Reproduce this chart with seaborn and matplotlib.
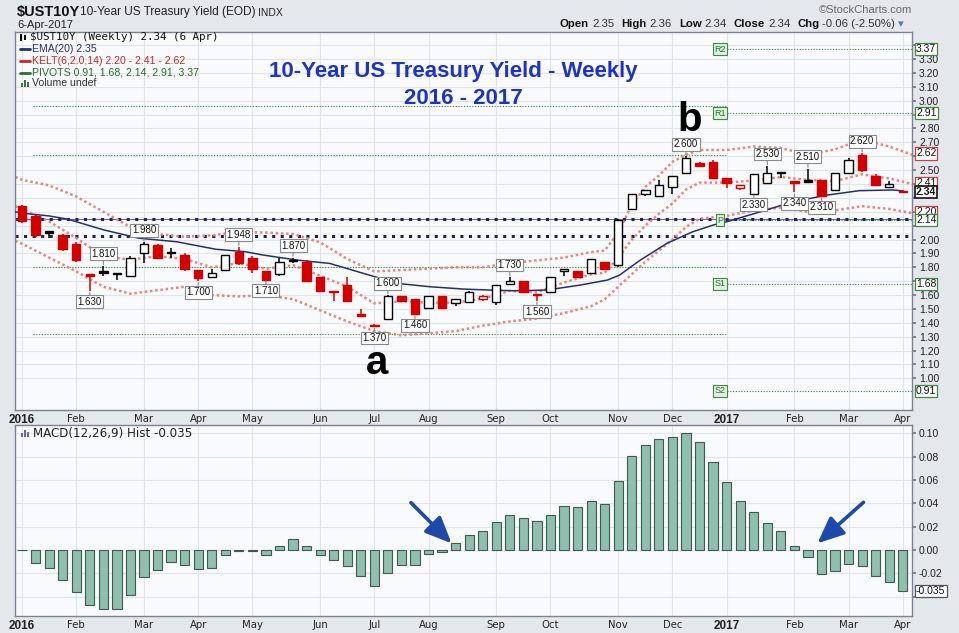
import numpy as np
import pandas as pd
import matplotlib
matplotlib.use("Agg")
import matplotlib.pyplot as plt
import seaborn as sns
from matplotlib.patches import Rectangle

# ---------------- data ----------------
week = list(range(66))
prior_close = 2.27
opens = [2.24, 2.17, 2.06, 2.03, 1.97, 1.75, 1.77, 1.75, 1.74, 1.90, 1.96, 1.91, 1.89, 1.78, 1.73, 1.78, 1.91, 1.87, 1.77, 1.75,
         1.85, 1.84, 1.73, 1.63, 1.67, 1.46, 1.38, 1.43, 1.59, 1.57, 1.51, 1.59, 1.54, 1.55, 1.57, 1.55, 1.68, 1.70, 1.61, 1.62,
         1.77, 1.77, 1.76, 1.84, 1.82, 2.22, 2.33, 2.31, 2.38, 2.48, 2.55, 2.56, 2.44, 2.37, 2.33, 2.41, 2.485, 2.42, 2.43, 2.43,
         2.36, 2.48, 2.61, 2.46, 2.38, 2.35]
highs = [2.25, 2.18, 2.065, 2.04, 1.98, 1.75, 1.81, 1.76, 1.88, 1.98, 1.97, 1.94, 1.90, 1.78, 1.79, 1.89, 1.948, 1.88, 1.77, 1.87,
         1.87, 1.85, 1.73, 1.63, 1.73, 1.50, 1.39, 1.60, 1.59, 1.57, 1.59, 1.59, 1.57, 1.63, 1.60, 1.67, 1.73, 1.70, 1.61, 1.73,
         1.79, 1.77, 1.86, 1.84, 2.15, 2.33, 2.36, 2.43, 2.46, 2.60, 2.56, 2.57, 2.44, 2.39, 2.47, 2.53, 2.485, 2.42, 2.51, 2.43,
         2.48, 2.59, 2.62, 2.47, 2.42, 2.36]
lows = [2.12, 2.02, 2.01, 1.92, 1.84, 1.63, 1.74, 1.71, 1.73, 1.83, 1.87, 1.87, 1.77, 1.70, 1.72, 1.77, 1.82, 1.76, 1.71, 1.74,
        1.83, 1.70, 1.63, 1.56, 1.56, 1.45, 1.37, 1.42, 1.55, 1.46, 1.50, 1.50, 1.52, 1.54, 1.56, 1.53, 1.67, 1.62, 1.56, 1.62,
        1.74, 1.73, 1.76, 1.79, 1.80, 2.21, 2.31, 2.31, 2.33, 2.47, 2.53, 2.44, 2.37, 2.36, 2.33, 2.40, 2.44, 2.34, 2.41, 2.31,
        2.35, 2.47, 2.49, 2.39, 2.37, 2.34]
closes = [2.13, 2.03, 2.05, 1.93, 1.85, 1.74, 1.76, 1.76, 1.87, 1.97, 1.87, 1.90, 1.79, 1.72, 1.76, 1.89, 1.83, 1.79, 1.71, 1.84,
          1.845, 1.70, 1.63, 1.62, 1.56, 1.45, 1.375, 1.59, 1.56, 1.46, 1.59, 1.51, 1.57, 1.62, 1.595, 1.67, 1.70, 1.62, 1.60, 1.73,
          1.79, 1.73, 1.86, 1.79, 2.14, 2.33, 2.36, 2.39, 2.46, 2.59, 2.53, 2.44, 2.41, 2.39, 2.47, 2.48, 2.48, 2.41, 2.415, 2.31,
          2.48, 2.57, 2.50, 2.395, 2.40, 2.34]
macd_hist = [-0.0003, -0.0114, -0.0157, -0.0257, -0.036, -0.0474, -0.0506, -0.0506, -0.0386, -0.0229,
             -0.0174, -0.0103, -0.0131, -0.0166, -0.0157, -0.0046, -0.0011, -0.0005, -0.004, 0.0034,
             0.0094, 0.0034, -0.004, -0.0086, -0.0137, -0.022, -0.0311, -0.0194, -0.0126, -0.0131,
             -0.0037, -0.002, 0.0057, 0.0126, 0.0163, 0.0237, 0.0297, 0.0271, 0.0246, 0.030,
             0.0374, 0.0366, 0.0417, 0.0391, 0.0591, 0.0803, 0.0903, 0.0949, 0.0966, 0.1003,
             0.0929, 0.0757, 0.0583, 0.0417, 0.0326, 0.0234, 0.016, 0.0037, -0.0057, -0.0203,
             -0.0183, -0.0123, -0.0137, -0.0223, -0.0277, -0.035]

ema_weeks = [-0.5, 0, 2, 3.4, 6, 8.6, 11.4, 14.3, 16.5, 17.8, 20.3, 22.7, 25.2, 27.7, 30.1, 32.6, 34.5, 36.3, 38.7,
             41.2, 43.2, 44.1, 45.6, 47.6, 49.5, 51, 52, 54.5, 56.9, 59.4, 61.8, 64.3, 65]
ema_vals = [2.20, 2.19, 2.17, 2.146, 2.07, 2.01, 1.984, 1.93, 1.912, 1.888, 1.852, 1.828, 1.756, 1.684, 1.66, 1.643, 1.636,
            1.631, 1.636, 1.672, 1.708, 1.744, 1.85, 1.973, 2.056, 2.104, 2.128, 2.20, 2.272, 2.32, 2.352, 2.357, 2.35]

kelt_weeks = [-0.5, 0, 2, 4, 6, 8, 10, 12, 14, 16, 18, 20, 22, 24, 26, 28, 30, 32, 34, 36, 38, 40, 42, 43, 44, 45, 46,
              47, 48, 49, 50, 52, 54, 56, 58, 60, 62, 64, 65.7]
kelt_mid = [2.24, 2.22, 2.13, 2.01, 1.88, 1.855, 1.88, 1.86, 1.80, 1.83, 1.79, 1.815, 1.74, 1.66, 1.54, 1.555, 1.545,
            1.545, 1.575, 1.63, 1.62, 1.69, 1.75, 1.76, 1.87, 2.00, 2.10, 2.185, 2.26, 2.36, 2.41, 2.41, 2.425, 2.45,
            2.43, 2.42, 2.47, 2.44, 2.40]
kelt_upper = [2.45, 2.43, 2.39, 2.31, 2.20, 2.09, 2.04, 2.02, 2.03, 2.056, 2.05, 2.04, 1.98, 1.86, 1.77, 1.78, 1.79,
              1.80, 1.80, 1.83, 1.85, 1.87, 1.91, 1.92, 2.05, 2.25, 2.38, 2.46, 2.56, 2.61, 2.645, 2.645, 2.67, 2.66,
              2.61, 2.65, 2.72, 2.67, 2.61]
kelt_lower = [1.99, 1.97, 1.87, 1.77, 1.66, 1.61, 1.635, 1.66, 1.60, 1.59, 1.60, 1.57, 1.49, 1.41, 1.34, 1.31, 1.325,
              1.34, 1.38, 1.41, 1.43, 1.47, 1.52, 1.57, 1.66, 1.75, 1.84, 1.92, 2.00, 2.09, 2.15, 2.17, 2.21, 2.23,
              2.20, 2.21, 2.24, 2.22, 2.19]

pivots_prev = [2.96, 2.61, 1.80, 1.32]
pivots_new = [3.37, 2.91, 2.14, 1.68, 0.91]
pivot_names = ["R2", "R1", "P", "S1", "S2"]
user_lines = [2.147, 2.027]

month_ticks = [0, 4, 9, 13, 17, 22, 26, 30, 35, 39, 44, 48, 52, 57, 61, 65]
month_labels = ["2016", "Feb", "Mar", "Apr", "May", "Jun", "Jul", "Aug", "Sep", "Oct", "Nov", "Dec",
                "2017", "Feb", "Mar", "Apr"]

hl_weeks = [5, 6, 9, 13, 16, 18, 20, 26, 27, 29, 36, 38, 49, 54, 55, 57, 58, 59, 62]
hl_texts = ["1.630", "1.810", "1.980", "1.700", "1.948", "1.710", "1.870", "1.370", "1.600", "1.460",
            "1.730", "1.560", "2.600", "2.330", "2.530", "2.340", "2.510", "2.310", "2.620"]
hl_sides = ["low", "high", "high", "low", "high", "low", "high", "low", "high", "low",
            "high", "low", "high", "low", "high", "low", "high", "low", "high"]

tag_vals = [3.37, 2.91, 2.62, 2.41, 2.20, 2.14, 1.68, 0.91, 2.34]
tag_kind = ["piv", "piv", "kelt", "kelt", "kelt", "piv", "piv", "piv", "last"]

# ---------------- figure ----------------
sns.set_theme(style="white")
plt.rcParams['font.family'] = ['Liberation Sans', 'DejaVu Sans']

W, H = 959, 633
fig = plt.figure(figsize=(W / 100, H / 100), dpi=100, facecolor='#e4e7ec')


def fx(px):
    return px / W


def fy(py):
    return 1 - py / H


L, R = 15, 912
ax1 = fig.add_axes([fx(L), fy(410), (R - L) / W, (410 - 32) / H])
ax2 = fig.add_axes([fx(L), fy(616), (R - L) / W, (616 - 425) / H])

# MACD histogram (seaborn)
sns.barplot(x=week, y=macd_hist, native_scale=True, color='#8fbfae', edgecolor='#42594f',
            linewidth=0.8, width=0.68, saturation=1, ax=ax2, zorder=3)

for ax in (ax1, ax2):
    ax.set_facecolor('#f9fafc')
    ax.set_xlim(-0.52, 65.68)
    ax.set_xlabel("")
    ax.set_ylabel("")
    for s in ax.spines.values():
        s.set_color('#7d838e')
        s.set_linewidth(1)
    ax.yaxis.tick_right()
    ax.set_xticks(month_ticks)
    ax.set_xticklabels(month_labels)
    ax.set_xticks(week, minor=True)
    ax.tick_params(axis='x', which='major', length=0, pad=3, labelsize=7.3, labelcolor='#222222')
    ax.tick_params(axis='x', which='minor', length=2, direction='out', color='#888888')
    ax.tick_params(axis='y', which='major', right=True, left=False, length=3, pad=2,
                   color='#777777', labelcolor='#222222')
    ax.grid(True, which='major', color='#e1e4e9', lw=0.8)
    for lab in ax.get_xticklabels():
        lab.set_fontfamily('DejaVu Sans')
        if lab.get_text() in ("2016", "2017"):
            lab.set_fontweight('bold')
            lab.set_fontfamily('Liberation Sans')
            lab.set_fontsize(8.5)

ax1.set_ylim(0.772, 3.495)
yt1 = np.round(np.arange(1.0, 3.41, 0.1), 2)
ax1.set_yticks(yt1)
# labels hidden behind the value tags are left blank
ax1.set_yticklabels([("" if min(abs(v - t) for t in tag_vals) < 0.045 else f"{v:.2f}") for v in yt1],
                    fontsize=7.5)
ax2.set_ylim(-0.0566, 0.1072)
yt2 = [-0.04, -0.02, 0.0, 0.02, 0.04, 0.06, 0.08, 0.10]
ax2.set_yticks(yt2)
ax2.set_yticklabels([("" if v == -0.04 else f"{v:.2f}") for v in yt2], fontsize=7.5)

# horizontal reference lines
for v in pivots_prev:
    ax1.plot([0.8, 52], [v, v], color='#3d8c40', lw=0.8, ls=(0, (1, 1.5)), zorder=2)
for v in pivots_new:
    ax1.plot([52, 65.68], [v, v], color='#3d8c40', lw=0.8, ls=(0, (1, 1.5)), zorder=2)
ax1.axhline(user_lines[0], color='#6b7290', lw=0.8, zorder=2)
for v in user_lines:
    ax1.axhline(v, color='#1b2160', lw=2.2, ls=(0, (1, 1.8)), zorder=2)

# Keltner channels and EMA (seaborn)
for band in (kelt_upper, kelt_mid, kelt_lower):
    sns.lineplot(x=kelt_weeks, y=band, ax=ax1, color='#e8877e', lw=1.8, ls=(0, (1, 1.1)),
                 sort=False, estimator=None, zorder=2.5)
sns.lineplot(x=ema_weeks, y=ema_vals, ax=ax1, color='#27306e', lw=1.1, sort=False, estimator=None, zorder=2.6)

# candles
prev = prior_close
for i in week:
    o, h, l, c = opens[i], highs[i], lows[i], closes[i]
    col = '#d40000' if c < prev else '#000000'
    hollow = c > o
    ax1.vlines(i, l, h, color=col, lw=1.1, zorder=4)
    bottom = min(o, c)
    height = max(abs(c - o), 0.007)
    ax1.add_patch(Rectangle((i - 0.31, bottom), 0.62, height, facecolor='white' if hollow else col,
                            edgecolor=col, lw=1.0, zorder=5))
    prev = c

# high / low labels
for wk, txt, side in zip(hl_weeks, hl_texts, hl_sides):
    yv = highs[wk] if side == "high" else lows[wk]
    off = 12 if side == "high" else -11
    ax1.annotate(txt, xy=(wk, yv), xytext=(0, off), textcoords='offset pixels',
                 ha='center', va='center', fontsize=7, color='#111111', zorder=8,
                 bbox=dict(boxstyle='square,pad=0.15', fc='white', ec='#8a8a8a', lw=0.8),
                 arrowprops=dict(arrowstyle='-', color='#8a8a8a', lw=0.8, shrinkA=0, shrinkB=1))

# pivot name tags
for v, nm in zip(pivots_new, pivot_names):
    ax1.text(51.5, v, nm, ha='center', va='center', fontsize=6.5, color='#2d6e2d', zorder=8,
             bbox=dict(boxstyle='square,pad=0.15', fc='#e2f1e2', ec='#3d8c40', lw=0.8))

# right-side value tags
for v, kind in zip(tag_vals, tag_kind):
    ec = {'piv': '#3d8c40', 'kelt': '#c84040', 'last': '#111111'}[kind]
    ax1.annotate(f"{v:.2f}", xy=(1.0, v), xycoords=('axes fraction', 'data'), xytext=(4, 0),
                 textcoords='offset pixels', ha='left', va='center',
                 fontsize=7.5, fontweight='bold' if kind == 'last' else 'normal', color='#111111',
                 annotation_clip=False, zorder=9,
                 bbox=dict(boxstyle='square,pad=0.1', fc='white', ec=ec, lw=1.2 if kind == 'last' else 0.9))
ax2.annotate(f"{macd_hist[-1]:.3f}", xy=(1.0, macd_hist[-1]), xycoords=('axes fraction', 'data'),
             xytext=(4, 0), textcoords='offset pixels', ha='left', va='center', fontsize=7.5,
             color='#111111', annotation_clip=False, zorder=9,
             bbox=dict(boxstyle='square,pad=0.12', fc='white', ec='#555555', lw=0.9))

# arrows on MACD
for (x0, y0, x1, y1) in [(28.7, 0.0406, 31.7, 0.0057), (62.1, 0.0409, 58.7, 0.0057)]:
    ax2.annotate('', xy=(x1, y1), xytext=(x0, y0),
                 arrowprops=dict(arrowstyle='-|>,head_length=0.8,head_width=0.35', mutation_scale=20,
                                 color='#1d4aa8', lw=2.6, shrinkA=0, shrinkB=0), zorder=9)

# letters a / b (baseline placed)
ax1.text(26.2, 1.031, "a", ha='center', va='baseline', fontsize=29, fontweight='bold', color='black', zorder=8)
ax1.text(49.3, 2.782, "b", ha='center', va='baseline', fontsize=29, fontweight='bold', color='black', zorder=8)

# title
blue = '#1e32c8'
fig.text(fx(453), fy(72), "10-Year US Treasury Yield - Weekly", ha='center', va='center',
         fontsize=16, fontweight='bold', color=blue)
fig.text(fx(463), fy(98), "2016 - 2017", ha='center', va='center', fontsize=16, fontweight='bold', color=blue)

# legend in top panel
fig.text(fx(30), fy(37), "$UST10Y (Weekly) 2.34 (6 Apr)", fontfamily='DejaVu Sans Mono', fontsize=7.8,
         va='center', ha='left', color='#111111')
fig.add_artist(Rectangle((fx(20), fy(41)), 2 / W, 7 / H, transform=fig.transFigure, fc='black', ec='none'))
fig.add_artist(Rectangle((fx(24), fy(40)), 2 / W, 5 / H, transform=fig.transFigure, fc='black', ec='none'))
leg_lines = [("EMA(20) 2.35", '#27306e', 49), ("KELT(6,2.0,14) 2.20 - 2.41 - 2.62", '#c82828', 61),
             ("PIVOTS 0.91, 1.68, 2.14, 2.91, 3.37", '#2d6e2d', 72.5)]
for txt, col, yy in leg_lines:
    fig.add_artist(plt.Line2D([fx(20), fx(30)], [fy(yy), fy(yy)], color=col, lw=2, transform=fig.transFigure))
    fig.text(fx(32), fy(yy), txt, fontsize=7.6, va='center', ha='left', color=col)
fig.text(fx(32), fy(83.5), "Volume undef", fontsize=7.6, va='center', ha='left', color='#333333')
for k, hh in enumerate([4, 7, 5]):
    fig.add_artist(Rectangle((fx(21 + 3 * k), fy(87)), 2 / W, hh / H, transform=fig.transFigure,
                             fc='#3d6e3d', ec='none'))

# MACD label
fig.text(fx(33), fy(433), "MACD(12,26,9) Hist -0.035", fontfamily='DejaVu Sans', fontsize=8.6,
         va='center', ha='left', color='#222222')
for k, hh in enumerate([4, 7, 5]):
    fig.add_artist(Rectangle((fx(21 + 3 * k), fy(437)), 2 / W, hh / H, transform=fig.transFigure,
                             fc='#5a6f9a', ec='none'))

# header
fig.text(fx(17), fy(12), "$UST10Y", fontsize=10.5, fontweight='bold', va='center', ha='left', color='#111111')
fig.text(fx(80), fy(12), "10-Year US Treasury Yield (EOD)", fontsize=8.6, va='center', ha='left', color='#222222')
fig.text(fx(258), fy(12.5), "INDX", fontsize=7.5, va='center', ha='left', color='#222222')
fig.text(fx(17), fy(24.5), "6-Apr-2017", fontsize=8, va='center', ha='left', color='#222222')
fig.text(fx(912), fy(10), "\u00a9StockCharts.com", fontsize=8, va='center', ha='right', color='#666666')

renderer = fig.canvas.get_renderer()
pieces = [("Open", 'bold', '#111111', 3), ("2.35", 'normal', '#333333', 7), ("High", 'bold', '#111111', 3),
          ("2.36", 'normal', '#333333', 7), ("Low", 'bold', '#111111', 3), ("2.34", 'normal', '#333333', 7),
          ("Close", 'bold', '#111111', 3), ("2.34", 'normal', '#333333', 7), ("Chg", 'bold', '#111111', 3),
          ("-0.06 (-2.50%)", 'normal', '#333333', 3), ("\u25be", 'normal', '#5b78a8', 0)]
xpos = 560
for s, wgt, col, gap in pieces:
    t = fig.text(fx(xpos), fy(24), s, fontsize=8.2, fontweight=wgt, color=col, va='center', ha='left',
                 fontfamily=['Liberation Sans', 'DejaVu Sans'])
    xpos += t.get_window_extent(renderer=renderer).width + gap

fig.savefig("out.png", dpi=100, facecolor=fig.get_facecolor())
